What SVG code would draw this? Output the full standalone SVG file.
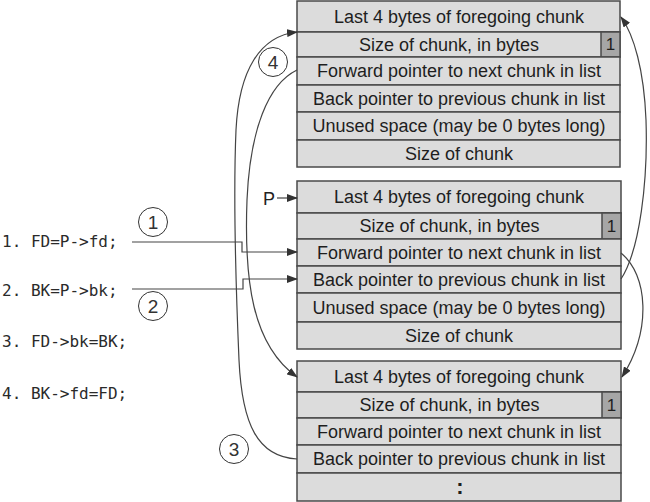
<svg xmlns="http://www.w3.org/2000/svg" width="650" height="502" viewBox="0 0 650 502">
<defs>
<marker id="ah" markerUnits="userSpaceOnUse" markerWidth="11" markerHeight="8" refX="10" refY="4" orient="auto">
<path d="M0,0 L11,4 L0,8 z" fill="#333"/>
</marker>
<style>
.row{fill:#dcdcdc;stroke:#4a4a4a;stroke-width:1.5}
.bit{fill:#a6a6a6;stroke:#4a4a4a;stroke-width:1.5}
.t{font-family:"Liberation Sans",Arial,sans-serif;font-size:18px;fill:#1e1e1e;text-anchor:middle;dominant-baseline:central}
.code{font-family:"DejaVu Sans Mono","Liberation Mono",monospace;font-size:16px;fill:#2a2a2a}
.c{fill:#fff;stroke:#333;stroke-width:1}
.cn{font-family:"Liberation Sans",Arial,sans-serif;font-size:19px;fill:#333;text-anchor:middle;dominant-baseline:central}
.ln{fill:none;stroke:#444;stroke-width:1.2}
</style>
</defs>
<rect width="650" height="502" fill="#fff"/>

<g id="chunk-top">
<rect class="row" x="297" y="1" width="323" height="31"/>
<rect class="row" x="297" y="32" width="323" height="25"/>
<rect class="bit" x="601" y="32" width="19" height="25"/>
<rect class="row" x="297" y="57" width="323" height="28"/>
<rect class="row" x="297" y="85" width="323" height="27"/>
<rect class="row" x="297" y="112" width="323" height="28"/>
<rect class="row" x="297" y="140" width="323" height="27"/>
<text class="t" x="459" y="16.5">Last 4 bytes of foregoing chunk</text>
<text class="t" x="449" y="44.5">Size of chunk, in bytes</text>
<text class="t" x="610.5" y="44.5" style="font-size:17px">1</text>
<text class="t" x="459" y="71">Forward pointer to next chunk in list</text>
<text class="t" x="459" y="98.5">Back pointer to previous chunk in list</text>
<text class="t" x="459" y="126">Unused space (may be 0 bytes long)</text>
<text class="t" x="459" y="153.5">Size of chunk</text>
</g>

<g id="chunk-mid">
<rect class="row" x="297" y="181" width="324" height="32"/>
<rect class="row" x="297" y="213" width="324" height="26"/>
<rect class="bit" x="602" y="213" width="19" height="26"/>
<rect class="row" x="297" y="239" width="324" height="27"/>
<rect class="row" x="297" y="266" width="324" height="27"/>
<rect class="row" x="297" y="293" width="324" height="29"/>
<rect class="row" x="297" y="322" width="324" height="27"/>
<text class="t" x="459" y="197">Last 4 bytes of foregoing chunk</text>
<text class="t" x="449.5" y="226">Size of chunk, in bytes</text>
<text class="t" x="611.5" y="226" style="font-size:17px">1</text>
<text class="t" x="459" y="252.5">Forward pointer to next chunk in list</text>
<text class="t" x="459" y="279.5">Back pointer to previous chunk in list</text>
<text class="t" x="459" y="307.5">Unused space (may be 0 bytes long)</text>
<text class="t" x="459" y="335.5">Size of chunk</text>
</g>

<g id="chunk-bottom">
<rect class="row" x="297" y="361" width="324" height="31"/>
<rect class="row" x="297" y="392" width="324" height="26"/>
<rect class="bit" x="602" y="392" width="19" height="26"/>
<rect class="row" x="297" y="418" width="324" height="27"/>
<rect class="row" x="297" y="445" width="324" height="28"/>
<rect class="row" x="297" y="473" width="324" height="28"/>
<text class="t" x="459" y="376.5">Last 4 bytes of foregoing chunk</text>
<text class="t" x="449.5" y="405">Size of chunk, in bytes</text>
<text class="t" x="611.5" y="405" style="font-size:17px">1</text>
<text class="t" x="459" y="431.5">Forward pointer to next chunk in list</text>
<text class="t" x="459" y="459">Back pointer to previous chunk in list</text>
<text class="t" x="460" y="486" style="font-weight:bold;font-size:22px">:</text>
</g>

<g id="code">
<text class="code" x="2" y="247">1. FD=P->fd;</text>
<text class="code" x="2" y="296">2. BK=P->bk;</text>
<text class="code" x="2" y="347">3. FD->bk=BK;</text>
<text class="code" x="2" y="399">4. BK->fd=FD;</text>
</g>

<g id="label-P">
<text x="263" y="205" style="font-family:'Liberation Sans',Arial,sans-serif;font-size:18px;fill:#222">P</text>
</g>

<g id="steps">
<circle class="c" cx="153" cy="222" r="14.5"/><text class="cn" x="153" y="222">1</text>
<circle class="c" cx="153" cy="306" r="14.5"/><text class="cn" x="153" y="306">2</text>
<circle class="c" cx="234" cy="449" r="14.5"/><text class="cn" x="234" y="449">3</text>
<circle class="c" cx="273" cy="62" r="14.5"/><text class="cn" x="273" y="62">4</text>
</g>

<g id="connectors">
<path class="ln" d="M277,198 L297,198" marker-end="url(#ah)"/>
<path class="ln" d="M132,242 L242,242 L242,252 L297,252" marker-end="url(#ah)"/>
<path class="ln" d="M132,289 L243,289 L243,279 L297,279" marker-end="url(#ah)"/>
<path class="ln" d="M297,459 C 258,457 242,425 239,360 C 236,290 233,200 236,130 C 239,70 260,36 297,32" marker-end="url(#ah)"/>
<path class="ln" d="M297,70 C 268,84 250,130 247,200 C 244,280 252,345 297,377" marker-end="url(#ah)"/>
<path class="ln" d="M621,253 C 648,275 652,330 622,377" marker-end="url(#ah)"/>
<path class="ln" d="M621,279 C 640,250 648,180 646,120 C 644,70 634,35 621,17" marker-end="url(#ah)"/>
</g>
</svg>
